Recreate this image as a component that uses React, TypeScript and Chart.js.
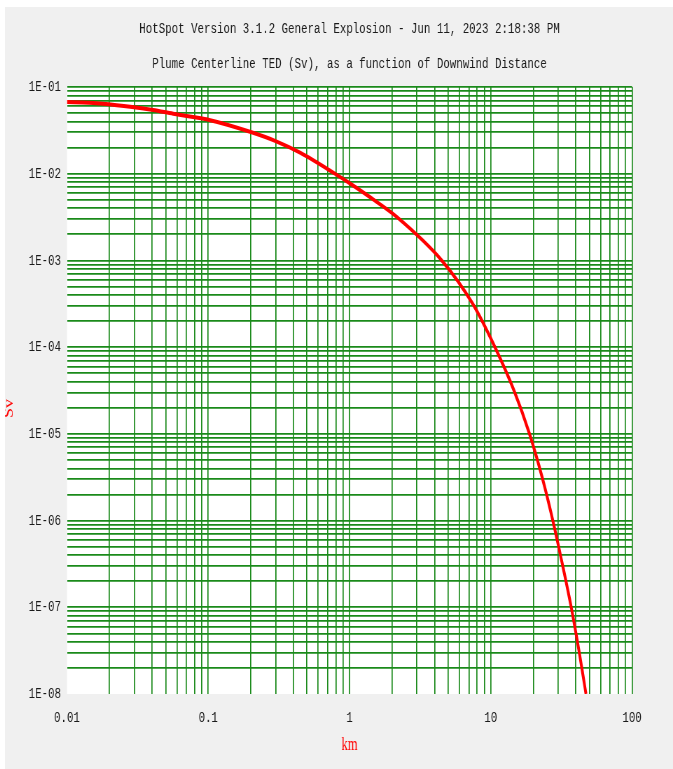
import React, { useEffect, useRef } from 'react';
import { Chart, registerables } from 'chart.js';

Chart.register(...registerables);

const TITLE = 'HotSpot Version 3.1.2 General Explosion - Jun 11, 2023 2:18:38 PM';
const SUBTITLE = 'Plume Centerline TED (Sv), as a function of Downwind Distance';
const X_TITLE = 'km';
const Y_TITLE = 'Sv';

// Downwind distance (km) and centerline TED (Sv)
const DISTANCE_KM = [
  0.01, 0.0143, 0.0171, 0.028, 0.0407, 0.0565, 0.0822, 0.1, 0.2, 0.3, 0.45, 0.79, 1.0, 1.5, 2.17,
  4.5, 7.45, 10.7, 14.6, 18.8, 23.1, 27.5, 32.1, 37.1, 42.1, 47.2,
];
const DOSE_SV = [
  6.7e-2, 6.6e-2, 6.45e-2, 5.93e-2, 5.43e-2, 4.92e-2, 4.45e-2, 4.2e-2, 3.03e-2, 2.38e-2, 1.74e-2,
  1.0e-2, 7.8e-3, 4.95e-3, 3.16e-3, 1.0e-3, 3.16e-4, 1.0e-4, 3.16e-5, 1.0e-5, 3.16e-6, 1.0e-6,
  3.16e-7, 1.0e-7, 3.16e-8, 1.0e-8,
];

const X_DECADES = [0.01, 0.1, 1, 10, 100];
const X_TICK_LABELS = ['0.01', '0.1', '1', '10', '100'];
const Y_DECADES = [1e-8, 1e-7, 1e-6, 1e-5, 1e-4, 1e-3, 1e-2, 1e-1];
const Y_TICK_LABELS = ['1E-08', '1E-07', '1E-06', '1E-05', '1E-04', '1E-03', '1E-02', '1E-01'];
const MINOR_MULTIPLES = [2, 3, 4, 5, 6, 7, 8, 9];

const MONO = '"Liberation Mono", "DejaVu Sans Mono", monospace';
const SERIF = '"Liberation Serif", "DejaVu Serif", serif';
const GRID_COLOR = '#1a8a1a';
const TEXT_COLOR = '#1a1a1a';

// the picture is horizontally compressed; draw wider, then squeeze with CSS
const CSS_W = 668;
const CSS_H = 762;
const SQUEEZE = 0.7;
const CANVAS_W = Math.round(CSS_W / SQUEEZE);

function decadeTicks(decades: number[]) {
  const ticks: { value: number; major: boolean }[] = [];
  decades.forEach((d, i) => {
    ticks.push({ value: d, major: true });
    if (i < decades.length - 1) {
      MINOR_MULTIPLES.forEach((m) => ticks.push({ value: m * d, major: false }));
    }
  });
  return ticks;
}

function labelFor(value: number, decades: number[], labels: string[]) {
  const idx = decades.findIndex((d) => Math.abs(value - d) / d < 1e-6);
  return idx >= 0 ? labels[idx] : '';
}

const plotBackground = {
  id: 'plotBackground',
  beforeDraw(chart: any) {
    const { ctx, chartArea } = chart;
    ctx.save();
    ctx.fillStyle = '#ffffff';
    ctx.fillRect(chartArea.left, chartArea.top, chartArea.width, chartArea.height);
    ctx.restore();
  },
};

const headerAndAxisTitle = {
  id: 'headerAndAxisTitle',
  afterDraw(chart: any) {
    const { ctx, chartArea } = chart;
    const cx = (chartArea.left + chartArea.right) / 2;
    ctx.save();
    ctx.fillStyle = TEXT_COLOR;
    ctx.textAlign = 'center';
    ctx.textBaseline = 'middle';
    ctx.font = `15.4px ${MONO}`;
    ctx.fillText(TITLE, cx, chartArea.top - 58);
    ctx.fillText(SUBTITLE, cx, chartArea.top - 23.5);
    ctx.restore();

    ctx.save();
    ctx.translate(6, (chartArea.top + chartArea.bottom) / 2 + 18);
    ctx.rotate(-Math.PI / 2);
    ctx.font = `18px ${SERIF}`;
    ctx.fillStyle = '#ff0000';
    ctx.textAlign = 'center';
    ctx.textBaseline = 'middle';
    ctx.fillText(Y_TITLE, 0, 0);
    ctx.restore();
  },
};

export default function App() {
  const ref = useRef<HTMLCanvasElement>(null);

  useEffect(() => {
    if (!ref.current) return;
    const chart = new Chart(ref.current, {
      type: 'line',
      data: {
        datasets: [
          {
            data: DISTANCE_KM.map((x, i) => ({ x, y: DOSE_SV[i] })),
            borderColor: '#ff0000',
            borderWidth: 4,
            pointRadius: 0,
            cubicInterpolationMode: 'monotone',
            fill: false,
          },
        ],
      },
      options: {
        animation: false,
        responsive: false,
        devicePixelRatio: 1,
        events: [],
        layout: { padding: { left: 0, right: CANVAS_W - 895.5, top: 80, bottom: 0 } },
        plugins: {
          legend: { display: false },
          tooltip: { enabled: false },
          title: { display: false },
        },
        scales: {
          x: {
            type: 'logarithmic',
            min: 0.01,
            max: 100,
            afterBuildTicks: (scale: any) => {
              scale.ticks = decadeTicks(X_DECADES);
            },
            afterFit: (scale: any) => {
              scale.height = 75;
            },
            grid: {
              drawTicks: false,
              lineWidth: 1.7,
              color: (c: any) => (c.tick && c.tick.value <= 0.01 * 1.0001 ? 'rgba(0,0,0,0)' : GRID_COLOR),
            },
            border: { display: false },
            ticks: {
              autoSkip: false,
              maxRotation: 0,
              minRotation: 0,
              padding: 14.7,
              color: TEXT_COLOR,
              font: { family: MONO, size: 15.4 },
              callback: (v: any) => labelFor(Number(v), X_DECADES, X_TICK_LABELS),
            },
            title: {
              display: true,
              text: X_TITLE,
              color: '#ff0000',
              font: { family: SERIF, size: 18 },
              padding: { top: 0, bottom: 13.2 },
            },
          },
          y: {
            type: 'logarithmic',
            min: 1e-8,
            max: 0.1,
            afterBuildTicks: (scale: any) => {
              scale.ticks = decadeTicks(Y_DECADES);
            },
            afterFit: (scale: any) => {
              scale.width = 88.5;
            },
            grid: {
              drawTicks: false,
              lineWidth: 1.7,
              color: (c: any) => (c.tick && c.tick.value <= 1e-8 * 1.0001 ? 'rgba(0,0,0,0)' : GRID_COLOR),
            },
            border: { display: false },
            ticks: {
              autoSkip: false,
              padding: 8.5,
              color: TEXT_COLOR,
              font: { family: MONO, size: 15.4 },
              callback: (v: any) => labelFor(Number(v), Y_DECADES, Y_TICK_LABELS),
            },
          },
        },
      },
      plugins: [plotBackground, headerAndAxisTitle],
    } as any);
    return () => chart.destroy();
  }, []);

  return (
    <div
      style={{
        position: 'absolute',
        left: 5,
        top: 7,
        width: CSS_W,
        height: CSS_H,
        background: '#f0f0f0',
        overflow: 'hidden',
      }}
    >
      <canvas
        ref={ref}
        width={CANVAS_W}
        height={CSS_H}
        style={{ width: `${CSS_W}px`, height: `${CSS_H}px`, display: 'block' }}
      />
    </div>
  );
}
